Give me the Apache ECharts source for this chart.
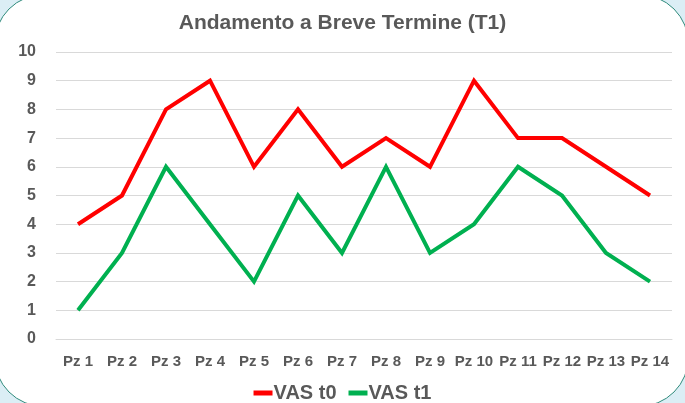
<!DOCTYPE html>
<html>
<head>
<meta charset="utf-8">
<script src="https://cdn.jsdelivr.net/npm/echarts@6/dist/echarts.min.js"></script>
<style>
  html, body { margin: 0; padding: 0; width: 685px; height: 403px; overflow: hidden; background: #dbeef5; }
  .panel {
    position: absolute; left: -6px; top: -6px; width: 695px; height: 413px;
    box-sizing: border-box; background: #fff; border: 1px solid #2f8b7c; border-radius: 50px;
  }
  #chart { position: absolute; left: 0; top: 0; width: 685px; height: 403px; }
</style>
</head>
<body>
<div class="panel"></div>
<div id="chart"></div>
<script>
const categories = ['Pz 1', 'Pz 2', 'Pz 3', 'Pz 4', 'Pz 5', 'Pz 6', 'Pz 7', 'Pz 8', 'Pz 9', 'Pz 10', 'Pz 11', 'Pz 12', 'Pz 13', 'Pz 14']
const vasT0 = [4, 5, 8, 9, 6, 8, 6, 7, 6, 9, 7, 7, 6, 5]
const vasT1 = [1, 3, 6, 4, 2, 5, 3, 6, 3, 4, 6, 5, 3, 2]

const font = "'Liberation Sans', Arial, sans-serif"
const grey = '#595959'

const chart = echarts.init(document.getElementById('chart'))
chart.setOption({
  backgroundColor: 'transparent',
  animation: false,
  title: {
    text: 'Andamento a Breve Termine (T1)',
    left: 'center', top: 8,
    textStyle: { fontFamily: font, fontSize: 21, fontWeight: 'bold', color: grey }
  },
  legend: {
    bottom: -5, left: 'center',
    itemWidth: 19, itemHeight: 5, itemGap: 12,
    icon: 'rect',
    textStyle: { fontFamily: font, fontSize: 20, fontWeight: 'bold', color: grey, padding: [0, 0, 0, -4] },
    data: ['VAS t0', 'VAS t1']
  },
  grid: { left: 56, right: 13, top: 52, bottom: 64, containLabel: false },
  xAxis: {
    type: 'category', data: categories,
    axisLine: { lineStyle: { color: '#d9d9d9' } },
    axisTick: { show: false },
    axisLabel: { interval: 0, margin: 15, fontFamily: font, fontSize: 15, fontWeight: 'bold', color: grey }
  },
  yAxis: {
    type: 'value', min: 0, max: 10, interval: 1,
    axisLine: { show: false },
    axisTick: { show: false },
    axisLabel: { margin: 20, fontFamily: font, fontSize: 16, fontWeight: 'bold', color: grey },
    splitLine: { lineStyle: { color: '#d9d9d9', width: 1 } }
  },
  series: [
    {
      name: 'VAS t0', type: 'line', data: vasT0,
      showSymbol: false,
      lineStyle: { color: '#ff0000', width: 4, join: 'miter' },
      itemStyle: { color: '#ff0000' }
    },
    {
      name: 'VAS t1', type: 'line', data: vasT1,
      showSymbol: false,
      lineStyle: { color: '#00b050', width: 4, join: 'miter' },
      itemStyle: { color: '#00b050' }
    }
  ]
})
</script>
</body>
</html>
